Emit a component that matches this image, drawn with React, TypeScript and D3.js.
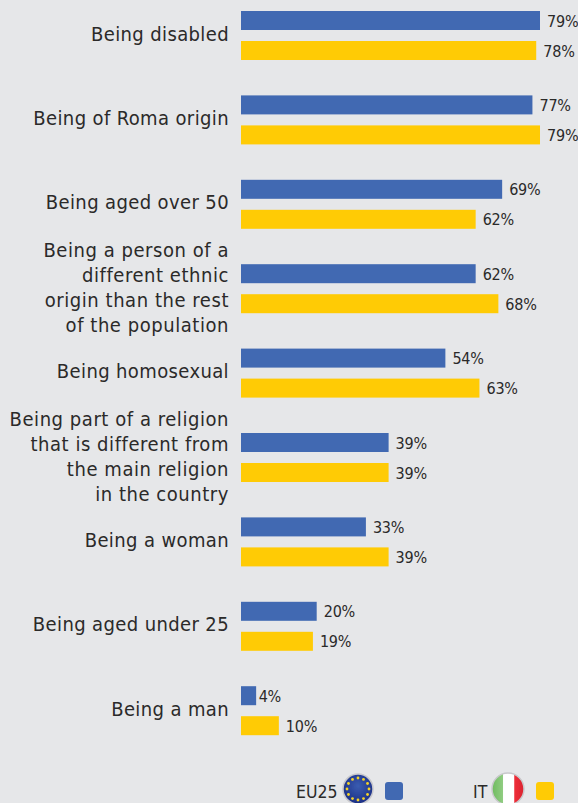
import React from "react";
import * as d3 from "d3";

const categories: string[][] = [
  ["Being disabled"],
  ["Being of Roma origin"],
  ["Being aged over 50"],
  ["Being a person of a", "different ethnic", "origin than the rest", "of the population"],
  ["Being homosexual"],
  ["Being part of a religion", "that is different from", "the main religion", "in the country"],
  ["Being a woman"],
  ["Being aged under 25"],
  ["Being a man"],
];
const eu25 = [79, 77, 69, 62, 54, 39, 33, 20, 4];
const it = [78, 79, 62, 68, 63, 39, 39, 19, 10];
const BLUE = "#4169b2";
const YELLOW = "#ffcb05";
const BG = "#e6e7e9";
const TEXT = "#2b2a29";
const FONT = "'DejaVu Sans Condensed','DejaVu Sans',sans-serif";

const W = 578, H = 803;

export default function App() {
  const x = d3.scaleLinear().domain([0, 79]).range([241, 540]);
  const y = d3.scaleBand<number>().domain(d3.range(categories.length)).range([11, 11 + 9 * 84.4]).padding(0);
  const bh = 19;
  return (
    <svg width={W} height={H} viewBox={`0 0 ${W} ${H}`} style={{ position: "fixed", left: 0, top: 0, background: BG, display: "block" }}>
      <defs>
        <radialGradient id="eu" cx="50%" cy="40%" r="60%">
          <stop offset="0%" stopColor="#3a5cb0" />
          <stop offset="100%" stopColor="#1c2f85" />
        </radialGradient>
        <linearGradient id="itf" x1="0" x2="1" y1="0" y2="0">
          <stop offset="0" stopColor="#6fbb5f" />
          <stop offset="0.33" stopColor="#8fcc80" />
          <stop offset="0.36" stopColor="#ffffff" />
          <stop offset="0.68" stopColor="#ffffff" />
          <stop offset="0.71" stopColor="#ee2e3a" />
          <stop offset="1" stopColor="#d9232e" />
        </linearGradient>
        <filter id="soft" x="-20%" y="-20%" width="140%" height="140%">
          <feGaussianBlur stdDeviation="0.6" />
        </filter>
      </defs>
      {categories.map((lines, i) => {
        const top = y(i)!;
        const cy = top + 29.5 + (lines.length > 1 ? 0.7 : 0);
        const lh = 25;
        return (
          <g key={i}>
            <rect x={x(0)} y={top} width={x(eu25[i]) - x(0)} height={bh} fill={BLUE} />
            <rect x={x(0)} y={top + 30} width={x(it[i]) - x(0)} height={bh} fill={YELLOW} />
            <text x={x(eu25[i]) + (eu25[i] < 5 ? 2.5 : 7)} y={top + 15.5} fontFamily={FONT} fontSize={16} letterSpacing={-0.2} fill={TEXT}>{eu25[i]}%</text>
            <text x={x(it[i]) + 7} y={top + 45.5} fontFamily={FONT} fontSize={16} letterSpacing={-0.2} fill={TEXT}>{it[i]}%</text>
            {lines.map((l, j) => (
              <text key={j} x={229} y={cy - ((lines.length - 1) * lh) / 2 + j * lh} textAnchor="end" fontFamily={FONT} fontSize={20} letterSpacing={lines.length > 1 ? 0.55 : 0.38} fill={TEXT}>{l}</text>
            ))}
          </g>
        );
      })}
      <text x={296} y={798} fontFamily={FONT} fontSize={17.5} fill={TEXT}>EU25</text>
      <g filter="url(#soft)">
        <circle cx={358} cy={789} r={15} fill="url(#eu)" stroke="#c9c9cc" strokeWidth={1.5} />
        {d3.range(12).map(k => {
          const a = (k / 12) * 2 * Math.PI;
          return <circle key={k} cx={358 + 11 * Math.cos(a)} cy={789 + 11 * Math.sin(a)} r={1.4} fill="#f5d327" />;
        })}
      </g>
      <rect x={385} y={782} width={18} height={18} rx={3} fill={BLUE} />
      <text x={473} y={798} fontFamily={FONT} fontSize={17.5} fill={TEXT}>IT</text>
      <circle cx={508} cy={789} r={16} fill="url(#itf)" stroke="#c9c9cc" strokeWidth={1.5} filter="url(#soft)" />
      <rect x={536} y={782} width={18} height={18} rx={3} fill={YELLOW} />
    </svg>
  );
}
